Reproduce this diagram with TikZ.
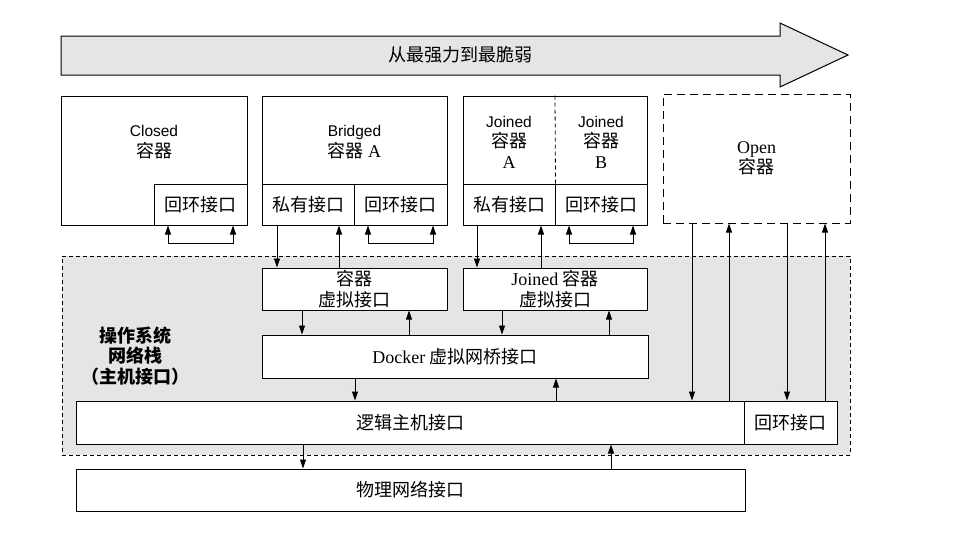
\documentclass[tikz,border=0pt]{standalone}
\usepackage{fontspec}
\setmainfont{Liberation Serif}
\newfontfamily\cjk{Noto Sans CJK SC}
\newfontfamily\arial{Liberation Sans}
\usetikzlibrary{arrows.meta}
\newcommand{\zh}[1]{{\cjk\fontsize{18}{20.5}\selectfont #1}}
\tikzset{
  box/.style={draw, line width=1pt, fill=white, inner sep=0pt, align=center,
    font=\fontsize{18}{20.5}\selectfont},
  label txt/.style={align=center, inner sep=0pt, font=\arial\fontsize{15.5}{20.5}\selectfont},
  arr/.style={line width=0.9pt, -{Triangle[length=9pt,width=6pt]}},
  loop arr/.style={line width=0.9pt, {Triangle[length=9pt,width=6pt]}-{Triangle[length=9pt,width=6pt]}},
}
\begin{document}
\begin{tikzpicture}[x=1pt,y=1pt,yscale=-1,xscale=1]
\useasboundingbox (0,0) rectangle (960,554);

%Shape: Big Arrow
\draw[line width=1pt, fill=black!10] (61,36) -- (780,36) -- (780,23) -- (848,55) -- (780,87) -- (780,75) -- (61,75) -- cycle ;
% Text Node
\node (dir) at (460,55) {\zh{从最强力到最脆弱}};

%Shape: Rectangle (Closed)
\node[box, minimum width=186pt, minimum height=129pt] (closed) at (154,160.5) {};
\node[box, minimum width=93pt, minimum height=41pt] (cloop) at (200.5,204.5) {\zh{回环接口}};
% Text Node
\node[label txt] (closedtxt) at (154,142) {Closed\\\zh{容器}};

%Shape: Rectangle (Bridged)
\node[box, minimum width=185pt, minimum height=129pt] (bridged) at (354.5,160.5) {};
\node[box, minimum width=92pt, minimum height=41pt] (bpriv) at (308,204.5) {\zh{私有接口}};
\node[box, minimum width=93pt, minimum height=41pt] (bloop) at (400.5,204.5) {\zh{回环接口}};
% Text Node
\node[label txt] (bridgedtxt) at (354.5,142) {Bridged\\\zh{容器} {\rmfamily\fontsize{18}{20.5}\selectfont A}};

%Shape: Rectangle (Joined)
\node[box, minimum width=184pt, minimum height=129pt] (joined) at (555,160.5) {};
\node[box, minimum width=92pt, minimum height=41pt] (jpriv) at (509,204.5) {\zh{私有接口}};
\node[box, minimum width=92pt, minimum height=41pt] (jloop) at (601,204.5) {\zh{回环接口}};
\draw[line width=0.8pt, dash pattern=on 4pt off 3pt] (joined.north) -- (jpriv.north east) ;
% Text Node
\node[label txt] (joinedatxt) at (509,142) {Joined\\\zh{容器}\\{\rmfamily\fontsize{18}{20.5}\selectfont A}};
% Text Node
\node[label txt] (joinedbtxt) at (601,142) {Joined\\\zh{容器}\\{\rmfamily\fontsize{18}{20.5}\selectfont B}};

%Shape: Rectangle (Open)
\node[box, dash pattern=on 8pt off 5pt, minimum width=187pt, minimum height=129pt] (open) at (756.5,158.5) {Open\\\zh{容器}};

%Shape: Rectangle (OS network stack)
\node[draw, line width=1pt, dash pattern=on 4pt off 3pt, fill=black!10, minimum width=788pt, minimum height=199pt] (osnet) at (456,355.5) {};
% Text Node
\node[align=center, font=\fontsize{18}{20.5}\selectfont\bfseries] (oslbl) at (135,356) {\zh{操作系统}\\\zh{网络栈}\\\zh{（主机接口）}};

%Shape: Rectangle (virtual interfaces)
\node[box, minimum width=185pt, minimum height=42pt] (cvif) at (354.5,289) {\zh{容器}\\\zh{虚拟接口}};
\node[box, minimum width=184pt, minimum height=42pt] (jvif) at (555,289) {Joined \zh{容器}\\\zh{虚拟接口}};
\node[box, minimum width=386pt, minimum height=43pt] (docker) at (455,356.5) {Docker \zh{虚拟网桥接口}};
\node[box, minimum width=668pt, minimum height=43pt] (logic) at (410,422.5) {\zh{逻辑主机接口}};
\node[box, minimum width=93pt, minimum height=43pt] (hloop) at (790.5,422.5) {\zh{回环接口}};
\node[box, minimum width=669pt, minimum height=42pt] (phys) at (410.5,490) {\zh{物理网络接口}};

%Straight Lines (loopback)
\draw[loop arr] ([xshift=-32.5pt]cloop.south) -- ++(0,18) -| ([xshift=32.5pt]cloop.south) ;
\draw[loop arr] ([xshift=-32.5pt]bloop.south) -- ++(0,18) -| ([xshift=32.5pt]bloop.south) ;
\draw[loop arr] ([xshift=-32pt]jloop.south) -- ++(0,18) -| ([xshift=32pt]jloop.south) ;

%Straight Lines (private to virtual)
\draw[arr] ([xshift=-31pt]bpriv.south) -- ([xshift=-31pt]bpriv.south |- cvif.north) ;
\draw[arr] ([xshift=31pt]bpriv.south |- cvif.north) -- ([xshift=31pt]bpriv.south) ;
\draw[arr] ([xshift=-32pt]jpriv.south) -- ([xshift=-32pt]jpriv.south |- jvif.north) ;
\draw[arr] ([xshift=32pt]jpriv.south |- jvif.north) -- ([xshift=32pt]jpriv.south) ;

%Straight Lines (virtual to bridge)
\draw[arr] ([xshift=-52.5pt]cvif.south) -- ([xshift=-52.5pt]cvif.south |- docker.north) ;
\draw[arr] ([xshift=54.5pt]cvif.south |- docker.north) -- ([xshift=54.5pt]cvif.south) ;
\draw[arr] ([xshift=-53pt]jvif.south) -- ([xshift=-53pt]jvif.south |- docker.north) ;
\draw[arr] ([xshift=54pt]jvif.south |- docker.north) -- ([xshift=54pt]jvif.south) ;

%Straight Lines (bridge to host)
\draw[arr] ([xshift=-100pt]docker.south) -- ([xshift=-100pt]docker.south |- logic.north) ;
\draw[arr] ([xshift=101pt]docker.south |- logic.north) -- ([xshift=101pt]docker.south) ;

%Straight Lines (host to physical)
\draw[arr] ([xshift=-107pt]logic.south) -- ([xshift=-107pt]logic.south |- phys.north) ;
\draw[arr] ([xshift=201pt]logic.south |- phys.north) -- ([xshift=201pt]logic.south) ;

%Straight Lines (open container)
\draw[arr] ([xshift=-64.5pt]open.south) -- ([xshift=-64.5pt]open.south |- logic.north) ;
\draw[arr] ([xshift=-27.5pt]open.south |- logic.north) -- ([xshift=-27.5pt]open.south) ;
\draw[arr] ([xshift=30.5pt]open.south) -- ([xshift=30.5pt]open.south |- hloop.north) ;
\draw[arr] ([xshift=68.5pt]open.south |- hloop.north) -- ([xshift=68.5pt]open.south) ;

\end{tikzpicture}
\end{document}
